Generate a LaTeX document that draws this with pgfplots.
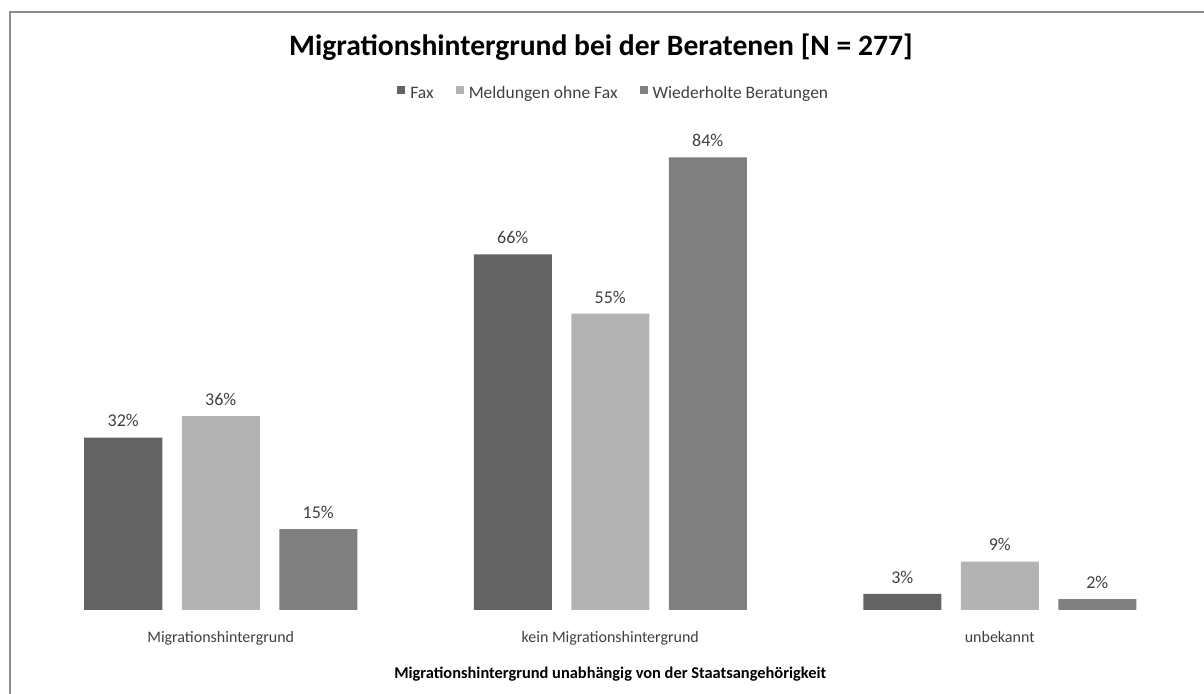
\documentclass[border=0pt]{standalone}
\usepackage{pgfplots}
\pgfplotsset{compat=1.18}
\usepackage{fontspec}
\setmainfont{Carlito}
\definecolor{cFax}{HTML}{636363}
\definecolor{cMel}{HTML}{B3B3B3}
\definecolor{cWie}{HTML}{808080}
\definecolor{txt}{HTML}{404040}
\begin{document}
\begin{tikzpicture}
\path[use as bounding box] (0pt,0pt) rectangle (1204pt,693pt);
\draw[color=black!45, line width=1.5pt] (10pt,-5pt) -- (10pt,681pt) -- (1210pt,681pt);
\begin{axis}[
  at={(26pt,83pt)}, anchor=south west,
  scale only axis, width=1168.5pt, height=538.7pt,
  xmin=-0.5, xmax=2.5, ymin=0, ymax=100,
  ybar=19.5pt, bar width=78pt,
  axis line style={draw=none},
  ytick=\empty, xtick=data, major tick length=0pt,
  xticklabels={Migrationshintergrund, kein Migrationshintergrund, unbekannt},
  xticklabel style={font=\fontsize{16}{19}\selectfont, text=txt, yshift=-18pt},
  xlabel={\bfseries Migrationshintergrund unabhängig von der Staatsangehörigkeit},
  xlabel style={font=\fontsize{16.4}{19}\selectfont, yshift=-15pt},
  title={\bfseries Migrationshintergrund bei der Beratenen [N = 277]},
  title style={font=\fontsize{29.6}{34}\selectfont, at={(rel axis cs:0.492,1.0)}, anchor=center, yshift=18pt},
  nodes near coords={\pgfmathprintnumber{\pgfplotspointmeta}\%},
  nodes near coords style={font=\fontsize{18}{21}\selectfont, text=txt, anchor=south, yshift=7pt,
    /pgf/number format/assume math mode=true},
  legend columns=3,
  legend style={draw=none, fill=none, at={(rel axis cs:0.503,0.9616)}, anchor=center,
    font=\fontsize{17.5}{20}\selectfont, text=txt, /tikz/every even column/.append style={column sep=20pt}},
  legend image code/.code={\fill[#1, draw=none] (0pt,-2.5pt) rectangle (8pt,6pt); \path (0pt,0pt) -- (11pt,0pt);},
]
\addplot[fill=cFax, draw=none] coordinates {(0,32) (1,66) (2,3)};
\addplot[fill=cMel, draw=none] coordinates {(0,36) (1,55) (2,9)};
\addplot[fill=cWie, draw=none] coordinates {(0,15) (1,84) (2,2)};
\legend{\strut Fax, \strut Meldungen ohne Fax, \strut Wiederholte Beratungen}
\end{axis}
\end{tikzpicture}
\end{document}
